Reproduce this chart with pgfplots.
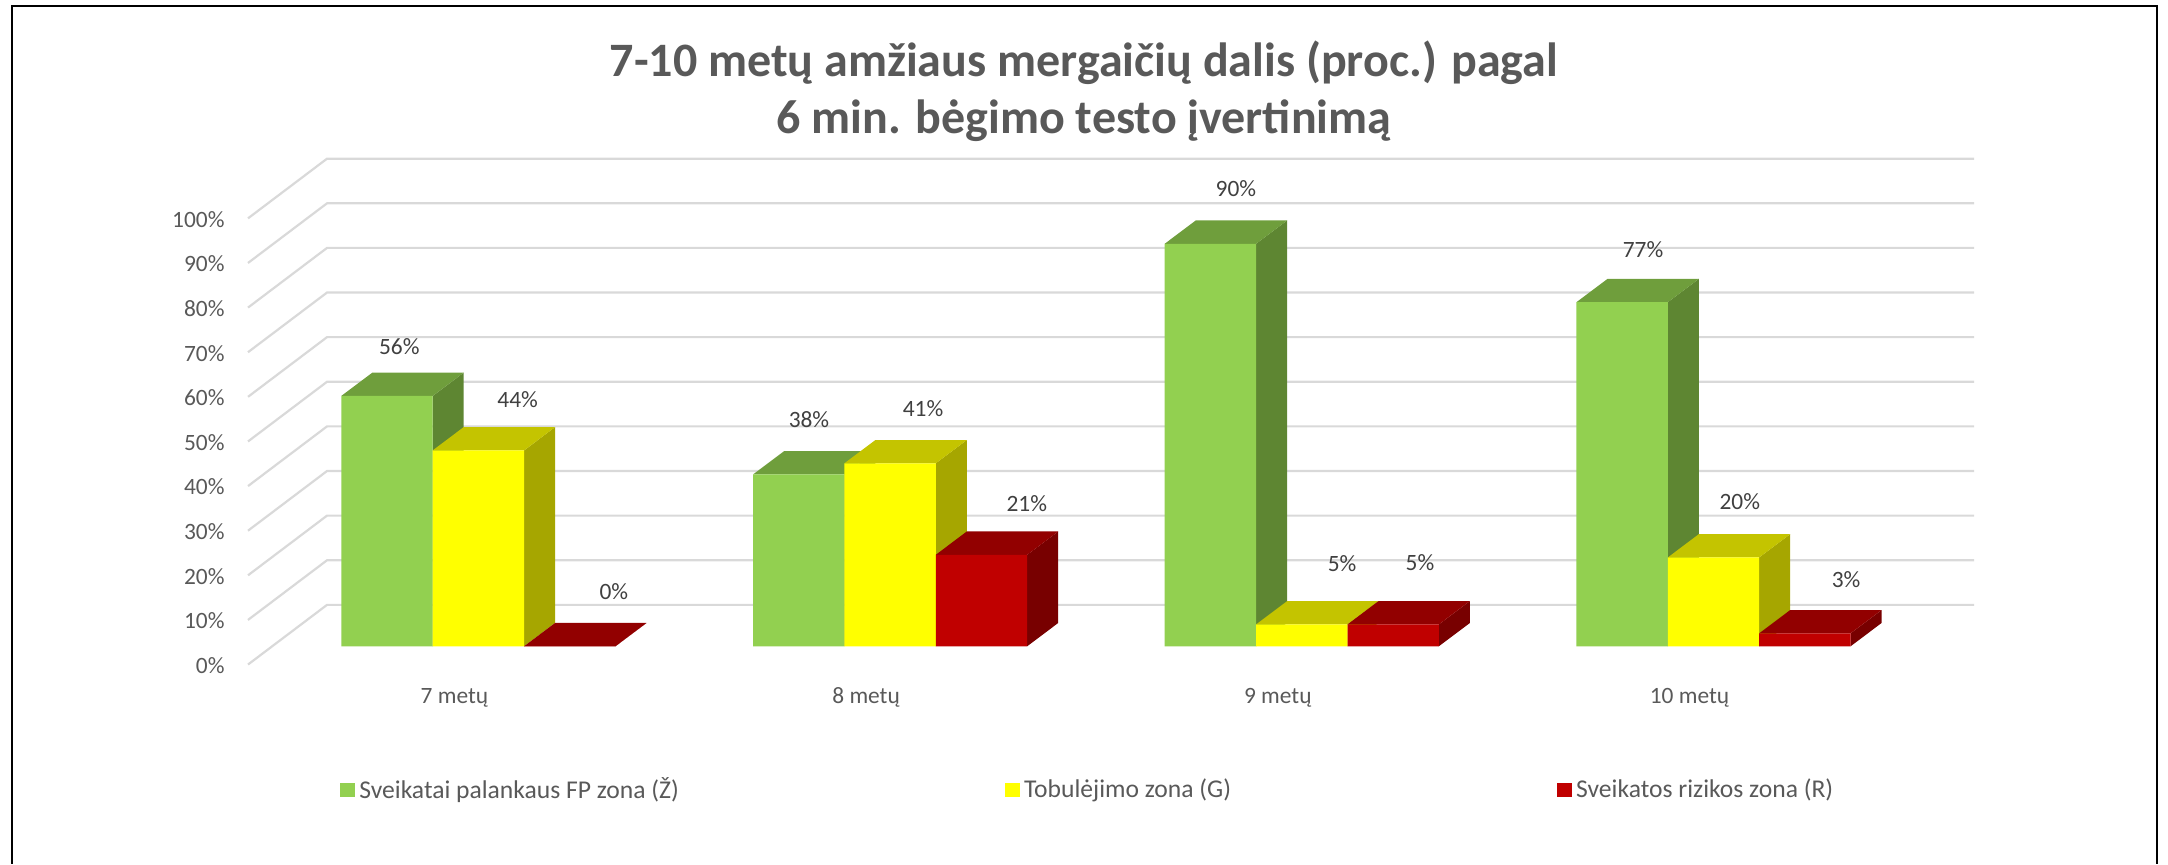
\documentclass[border=0pt]{standalone}
\usepackage{pgfplots}
\pgfplotsset{compat=1.18}
\usepackage{fontspec}
\setmainfont{Carlito}
\definecolor{txt}{HTML}{595959}
\definecolor{lbl}{HTML}{404040}
\definecolor{gridc}{HTML}{D9D9D9}
\definecolor{gF}{HTML}{92D050}
\definecolor{gT}{HTML}{6F9E3C}
\definecolor{gS}{HTML}{5E8632}
\definecolor{yF}{HTML}{FFFF00}
\definecolor{yT}{HTML}{C4C400}
\definecolor{yS}{HTML}{A6A600}
\definecolor{rF}{HTML}{C00000}
\definecolor{rT}{HTML}{920000}
\definecolor{rS}{HTML}{780000}
% one bar's right side and top face: left edge offset, group, value, side, top
\newcommand{\barfaces}[5]{%
  \pgfmathsetmacro\xl{#2+#1}%
  \pgfmathsetmacro\xr{\xl+0.222}%
  \pgfmathsetmacro\xld{\xl+0.0753}%
  \pgfmathsetmacro\xrd{\xr+0.0753}%
  \pgfmathsetmacro\vd{#3+5.22}%
  \edef\temp{\noexpand\addplot[forget plot,fill=#4,draw=none] coordinates {(\xr,0) (\xrd,5.22) (\xrd,\vd) (\xr,#3)};
             \noexpand\addplot[forget plot,fill=#5,draw=none] coordinates {(\xl,#3) (\xr,#3) (\xrd,\vd) (\xld,\vd)};}%
  \temp}
\newcommand{\gridline}[1]{%
  \pgfmathsetmacro\vf{#1-4.1}%
  \pgfmathsetmacro\vb{#1+9.28}%
  \edef\temp{\noexpand\addplot[forget plot,draw=gridc,line width=1.1pt] coordinates {(-0.5596,\vf) (-0.3676,\vb) (3.633,\vb)};}%
  \temp}
\begin{document}
\begin{tikzpicture}
\begin{axis}[
  at={(0,0)}, anchor=south west,
  scale only axis, width=1084pt, height=432pt,
  xmin=-1.162, xmax=4.104, ymin=-48.79, ymax=144.84,
  clip=false,
  axis line style={draw=none},
  tick style={draw=none},
  major tick length=0pt,
  xtick={0,1,2,3},
  xticklabels={7 metų,8 metų,9 metų,10 metų},
  xticklabel style={anchor=center,font=\fontsize{11.7}{14}\selectfont,text=txt,xshift=-12pt,yshift=83.2pt},
  ytick={-4.1,5.9,15.9,25.9,35.9,45.9,55.9,65.9,75.9,85.9,95.9},
  yticklabels={0\%,10\%,20\%,30\%,40\%,50\%,60\%,70\%,80\%,90\%,100\%},
  yticklabel style={anchor=east,font=\fontsize{11.7}{14}\selectfont,text=txt,xshift=115.8pt,yshift=-0.5pt},
  title={7-10 metų amžiaus mergaičių dalis (proc.) pagal\\6 min. bėgimo testo įvertinimą},
  title style={at={(0.5,1)},anchor=north,yshift=-22.8pt,align=center,
    font=\fontsize{24}{28.7}\selectfont\bfseries,text=txt},
  legend columns=3,
  legend cell align=left,
  legend style={at={(340/2168,74/864)},anchor=west,draw=none,fill=none,inner sep=0pt,
    font=\fontsize{12.8}{15}\selectfont,text=txt,
    /tikz/column 2/.style={column sep=161pt},
    /tikz/column 4/.style={column sep=161pt}},
  legend image code/.code={\fill[#1] (0pt,-3.7pt) rectangle (7.5pt,3.7pt);},
]
% frame
\addplot[forget plot,draw=black,line width=1pt] coordinates {(-1.1321,-48.79) (-1.1321,143.39) (4.078,143.39) (4.078,-48.79)};
% grid
\foreach \L in {0,10,...,100} {\expandafter\gridline\expandafter{\L}}
% green
\foreach \g/\v in {0/56.1,1/38.5,2/90.2,3/77.1} {\barfaces{-0.333}{\g}{\v}{gS}{gT}}
\addplot[ybar,bar width=0.222,bar shift=-0.222,fill=gF,draw=none] coordinates {(0,56.1) (1,38.5) (2,90.2) (3,77.1)};
% yellow
\foreach \g/\v in {0/43.9,1/41,2/4.9,3/19.9} {\barfaces{-0.111}{\g}{\v}{yS}{yT}}
\addplot[ybar,bar width=0.222,bar shift=0,fill=yF,draw=none] coordinates {(0,43.9) (1,41) (2,4.9) (3,19.9)};
% red
\foreach \g/\v in {0/0,1/20.5,2/4.9,3/2.9} {\barfaces{0.111}{\g}{\v}{rS}{rT}}
\addplot[ybar,bar width=0.222,bar shift=0.222,fill=rF,draw=none] coordinates {(0,0) (1,20.5) (2,4.9) (3,2.9)};
% value labels, at the places the source chart put them
\addplot[forget plot,draw=none,mark=none,point meta=explicit symbolic,
  nodes near coords,
  every node near coord/.style={anchor=center,inner sep=0pt,font=\fontsize{11.7}{14}\selectfont,text=lbl}]
  coordinates {
  (-0.192,67.08)[56\%] (0.0955,55.2)[44\%] (0.329,12.17)[0\%]
  (0.803,50.7)[38\%] (1.080,53.18)[41\%] (1.332,31.9)[21\%]
  (1.840,102.6)[90\%] (2.098,18.5)[5\%] (2.287,18.7)[5\%]
  (2.829,88.9)[77\%] (3.064,32.4)[20\%] (3.322,14.9)[3\%]};
\legend{Sveikatai palankaus FP zona (Ž),Tobulėjimo zona (G),Sveikatos rizikos zona (R)}
\end{axis}
\end{tikzpicture}
\end{document}
